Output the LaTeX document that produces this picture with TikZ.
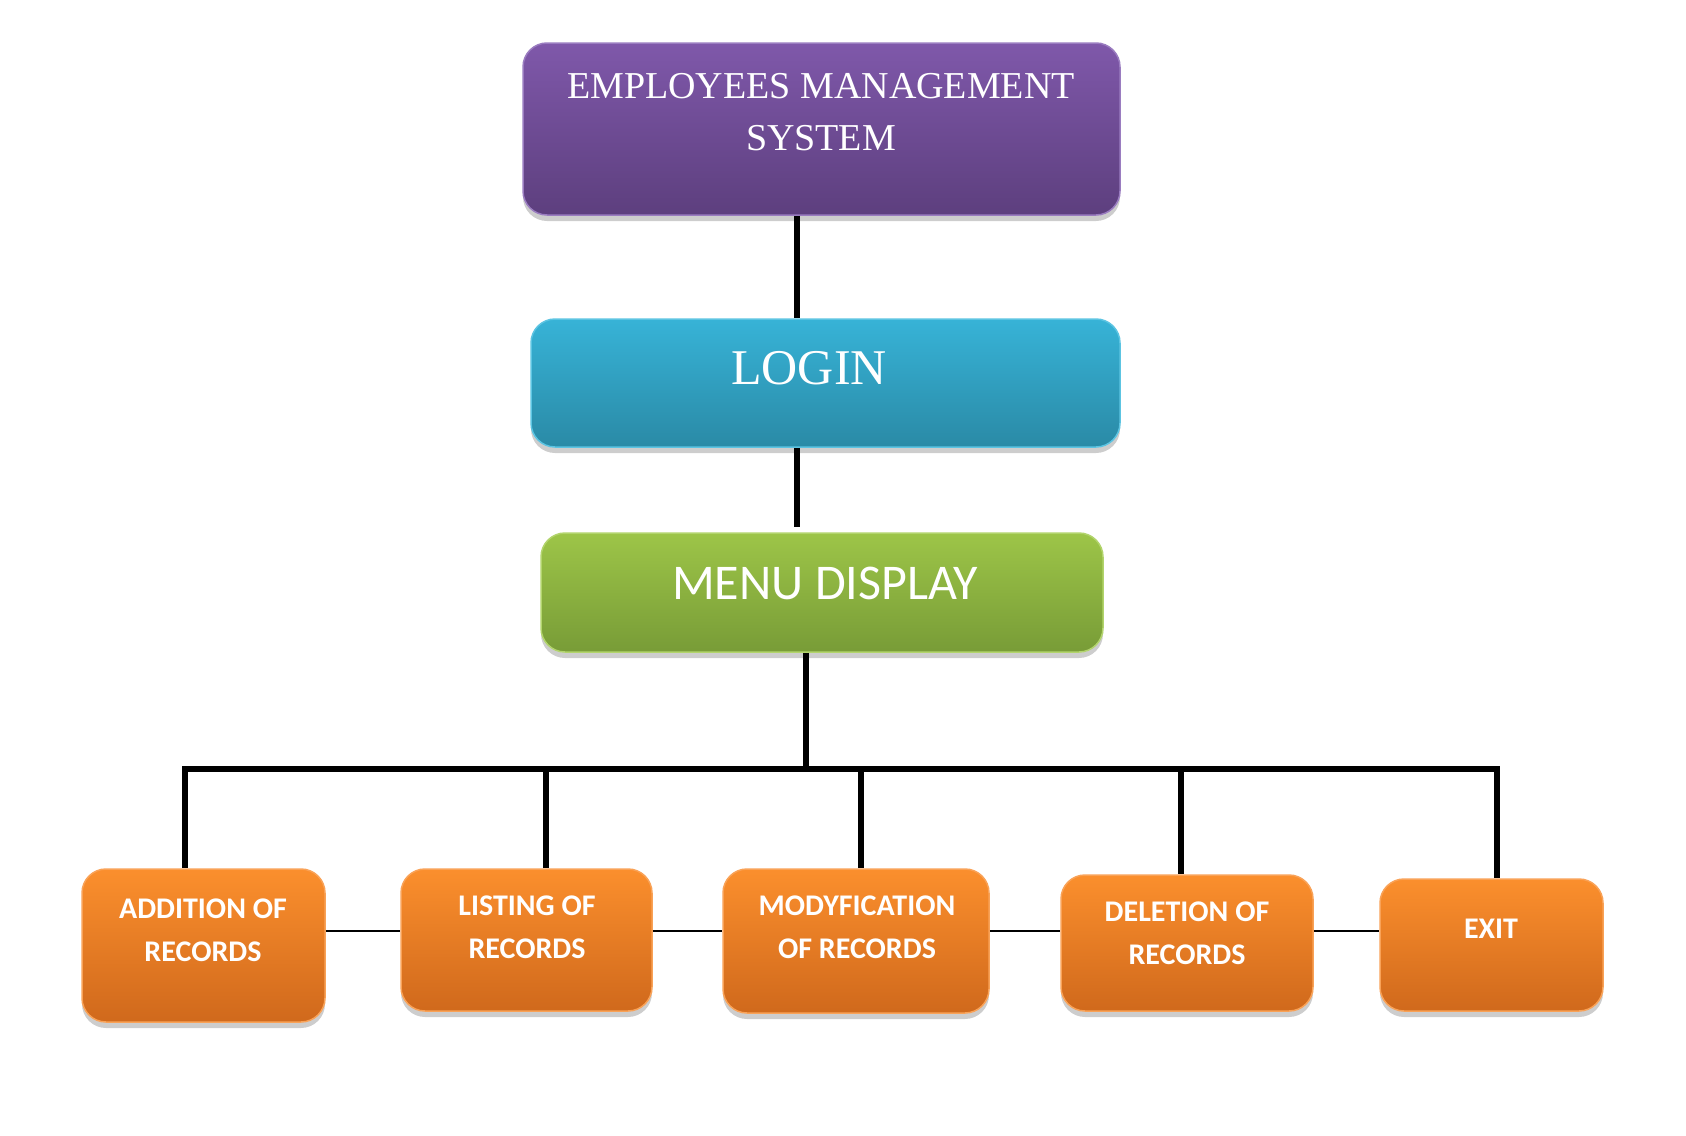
\documentclass[tikz,border=0pt]{standalone}
\usepackage{fontspec}
\setmainfont{Liberation Serif}
\newfontfamily\carlito{Carlito}
\usetikzlibrary{shadows}
\definecolor{purpT}{HTML}{7F58AA}
\definecolor{purpB}{HTML}{5D3F7E}
\definecolor{purpE}{HTML}{9A7CC0}
\definecolor{blueT}{HTML}{37B3D7}
\definecolor{blueB}{HTML}{2A8AA6}
\definecolor{blueE}{HTML}{5CC4E2}
\definecolor{grnT}{HTML}{9DC548}
\definecolor{grnB}{HTML}{789C37}
\definecolor{grnE}{HTML}{B2D46C}
\definecolor{orT}{HTML}{FB8F2D}
\definecolor{orB}{HTML}{D0691C}
\definecolor{orE}{HTML}{F9A257}
\begin{document}
\begin{tikzpicture}[x=1pt,y=-1pt,
  box/.style={rounded corners=24pt, inner sep=0pt, line width=1.5pt,
    drop shadow={opacity=0.28, fill=black!70, shadow xshift=0pt, shadow yshift=-6pt}},
  purplebox/.style={box, draw=purpE, top color=purpT, bottom color=purpB},
  bluebox/.style={box, draw=blueE, top color=blueT, bottom color=blueB},
  greenbox/.style={box, draw=grnE, top color=grnT, bottom color=grnB},
  orangebox/.style={box, draw=orE, top color=orT, bottom color=orB},
  toptext/.style={text=white, inner sep=0pt, align=center},
  subtext/.style={text=white, inner sep=0pt, align=center,
    font=\carlito\bfseries\fontsize{30}{43}\selectfont},
  thickline/.style={line width=6pt, black},
  thinline/.style={line width=2pt, black}
]
\useasboundingbox (0,0) rectangle (1686,1135);

% boxes
\node[purplebox, minimum width=597pt, minimum height=172pt] (ems) at (821.5,129) {};
\node[bluebox, minimum width=589pt, minimum height=128pt] (login) at (825.5,383) {};
\node[greenbox, minimum width=562pt, minimum height=119pt] (menu) at (822,592.5) {};
\node[orangebox, minimum width=243pt, minimum height=153pt] (add) at (203.5,945.5) {};
\node[orangebox, minimum width=251pt, minimum height=142pt] (list) at (526.5,940) {};
\node[orangebox, minimum width=266pt, minimum height=144pt] (mod) at (856,941) {};
\node[orangebox, minimum width=252pt, minimum height=136pt] (del) at (1187,943) {};
\node[orangebox, minimum width=223pt, minimum height=132pt] (exit) at (1491.5,945) {};

% texts
\node[toptext, font=\fontsize{38}{52}\selectfont] (emsT) at (821,112) {EMPLOYEES MANAGEMENT\\SYSTEM};
\node[toptext, font=\fontsize{50}{60}\selectfont] (loginT) at (809,368) {LOGIN};
\node[toptext, font=\carlito\fontsize{50}{60}\selectfont] (menuT) at (825,583) {MENU DISPLAY};
\node[subtext] (addT) at (203,930) {ADDITION OF\\RECORDS};
\node[subtext] (listT) at (527,927) {LISTING OF\\RECORDS};
\node[subtext] (modT) at (857,927) {MODYFICATION\\OF RECORDS};
\node[subtext] (delT) at (1187,933) {DELETION OF\\RECORDS};
\node[subtext] (exitT) at (1491,929) {EXIT};

% junction coordinates
\coordinate (c1) at (797,0);
\coordinate (c2) at (797,527);
\coordinate (c3) at (806,769);
\coordinate (b1) at (185,769);
\coordinate (b2) at (546,769);
\coordinate (b3) at (861,769);
\coordinate (b4) at (1181,769);
\coordinate (b5) at (1497,769);
\coordinate (hl) at (0,931);

% connectors
\draw[thickline] (ems.south -| c1) -- (login.north -| c1);
\draw[thickline] (login.south -| c2) -- (c2);
\draw[thickline] (menu.south -| c3) -- (c3);
\draw[thickline, line cap=rect] (b1) -- (b5);
\draw[thickline] (b1) -- (add.north -| b1);
\draw[thickline] (b2) -- (list.north -| b2);
\draw[thickline] (b3) -- (mod.north -| b3);
\draw[thickline] (b4) -- (del.north -| b4);
\draw[thickline] (b5) -- (exit.north -| b5);
\draw[thinline] (add.east |- hl) -- (list.west |- hl);
\draw[thinline] (list.east |- hl) -- (mod.west |- hl);
\draw[thinline] (mod.east |- hl) -- (del.west |- hl);
\draw[thinline] (del.east |- hl) -- (exit.west |- hl);
\end{tikzpicture}
\end{document}
